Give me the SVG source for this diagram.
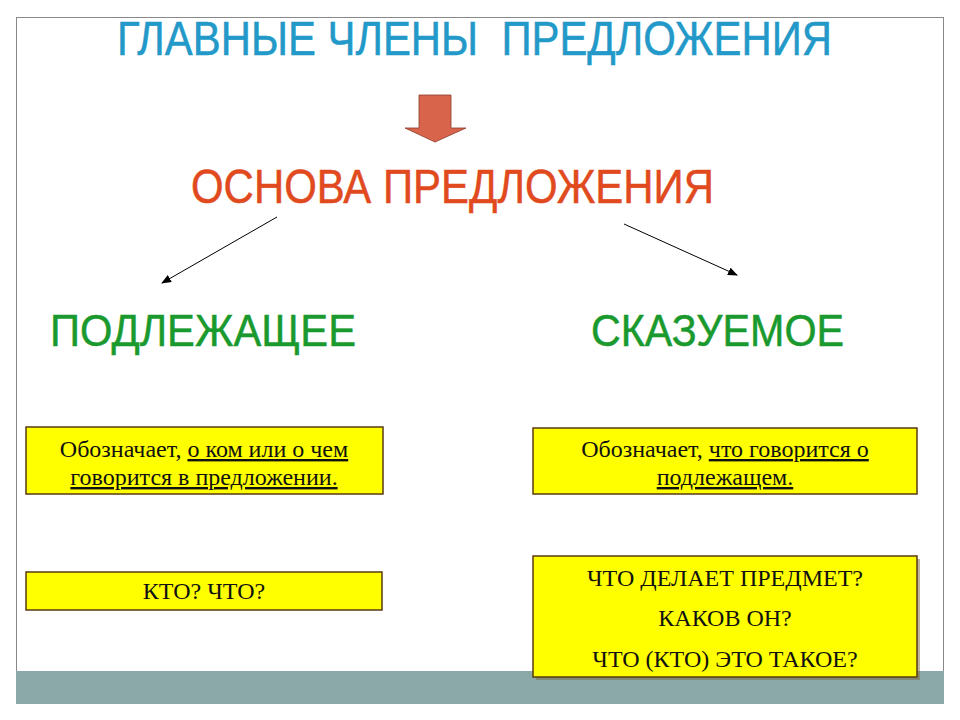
<svg xmlns="http://www.w3.org/2000/svg" width="960" height="720" viewBox="0 0 960 720">
<defs>
<style>
.hd{font-family:"Liberation Sans",Arial,sans-serif;stroke-width:0.5;}
.bx{fill:#ffff00;stroke:#5a3a12;stroke-width:1.5;}
.bt{font-family:"Liberation Serif","Times New Roman",serif;font-size:24px;fill:#111;text-anchor:middle;}
.conn{stroke:#000;stroke-width:1;fill:none;marker-end:url(#ah);}
</style>
<marker id="ah" markerWidth="10" markerHeight="8" refX="9" refY="4" orient="auto" markerUnits="userSpaceOnUse">
<path d="M0,0 L10,4 L0,8 Z" fill="#000"/>
</marker>
</defs>
<rect x="0" y="0" width="960" height="720" fill="#fff"/>
<rect x="16.5" y="17.5" width="927" height="686" fill="#fff" stroke="#888" stroke-width="1"/>
<rect x="16" y="671" width="928" height="33" fill="#8aa9a8"/>

<g id="title">
<text class="hd" x="117" y="55" font-size="48" fill="#2299c8" stroke="#2299c8" textLength="715" lengthAdjust="spacingAndGlyphs" xml:space="preserve">ГЛАВНЫЕ ЧЛЕНЫ  ПРЕДЛОЖЕНИЯ</text>
</g>
<g id="down-arrow">
<path d="M419,95 L451,95 L451,128 L466,128 L435,142 L405,128 L419,128 Z" fill="#d8644c" stroke="#8a3a2a" stroke-width="0.8"/>
</g>
<g id="osnova">
<text class="hd" x="191" y="203" font-size="48" fill="#e04a1e" stroke="#e04a1e" textLength="523" lengthAdjust="spacingAndGlyphs">ОСНОВА ПРЕДЛОЖЕНИЯ</text>
</g>
<g id="podlezhashchee">
<text class="hd" x="50" y="346" font-size="45" fill="#1a9a2e" stroke="#1a9a2e" textLength="306" lengthAdjust="spacingAndGlyphs">ПОДЛЕЖАЩЕЕ</text>
</g>
<g id="skazuemoe">
<text class="hd" x="591" y="346" font-size="45" fill="#1a9a2e" stroke="#1a9a2e" textLength="253" lengthAdjust="spacingAndGlyphs">СКАЗУЕМОЕ</text>
</g>

<g id="connectors">
<line class="conn" x1="277" y1="217" x2="162" y2="283"/>
<line class="conn" x1="624" y1="224" x2="737" y2="275"/>
</g>

<g id="box-podl-def">
<rect class="bx" x="26" y="427" width="357" height="67"/>
<text class="bt" x="204" y="457">Обозначает, <tspan text-decoration="underline">о ком или о чем</tspan></text>
<text class="bt" x="204" y="485" text-decoration="underline">говорится в предложении.</text>
</g>
<g id="box-skaz-def">
<rect class="bx" x="533" y="428" width="384" height="66"/>
<text class="bt" x="725" y="457">Обозначает, <tspan text-decoration="underline">что говорится о</tspan></text>
<text class="bt" x="725" y="485" text-decoration="underline">подлежащем.</text>
</g>
<g id="box-podl-q">
<rect class="bx" x="26" y="572" width="356" height="38"/>
<text class="bt" x="204" y="599">КТО? ЧТО?</text>
</g>
<g id="box-skaz-q">
<rect x="536" y="559" width="384" height="121" fill="#7a6a3a" opacity="0.5"/>
<rect class="bx" x="533" y="556" width="384" height="121"/>
<text class="bt" x="725" y="586">ЧТО ДЕЛАЕТ ПРЕДМЕТ?</text>
<text class="bt" x="725" y="626">КАКОВ ОН?</text>
<text class="bt" x="725" y="667">ЧТО (КТО) ЭТО ТАКОЕ?</text>
</g>
</svg>
